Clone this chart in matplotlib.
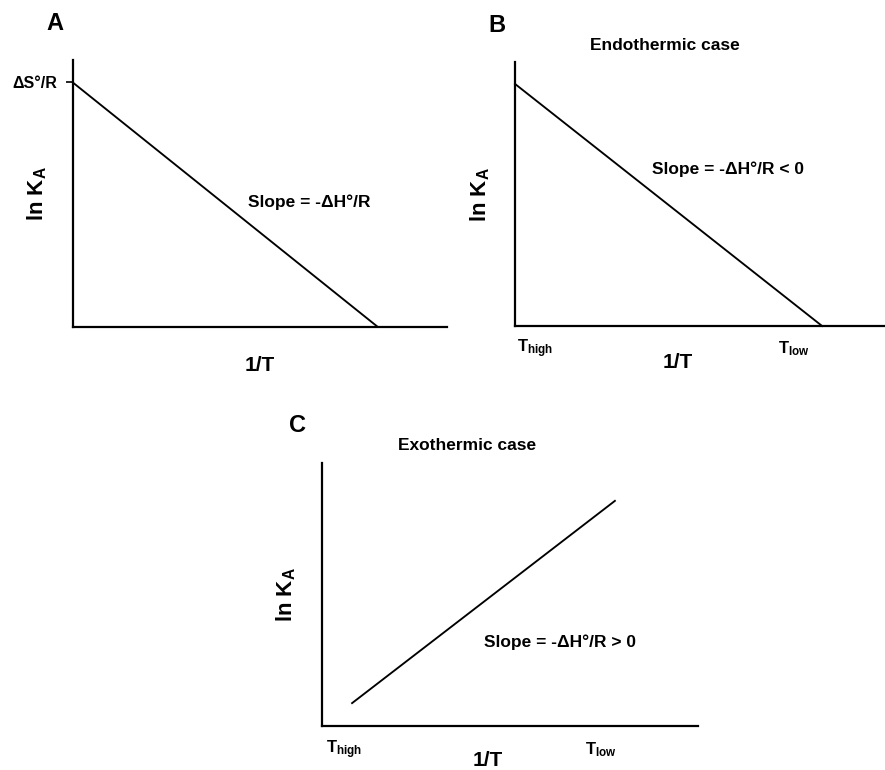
import matplotlib
matplotlib.use('Agg')
import matplotlib.pyplot as plt

plt.rcParams['font.family'] = ['Liberation Sans', 'DejaVu Sans']
plt.rcParams['font.weight'] = 'bold'
plt.rcParams['mathtext.fontset'] = 'custom'
plt.rcParams['mathtext.rm'] = 'Liberation Sans:bold'
plt.rcParams['mathtext.bf'] = 'Liberation Sans:bold'
plt.rcParams['mathtext.it'] = 'Liberation Sans:bold'
plt.rcParams['mathtext.default'] = 'rm'

W, H = 885, 770

# line end points (axes fraction units) for each panel
a_x = [0.0, 0.815]
a_y = [0.916, 0.0]
b_x = [0.0, 0.83]
b_y = [0.917, 0.0]
c_x = [0.08, 0.779]
c_y = [0.087, 0.856]

panels = ['A', 'B', 'C']
titles = ['', 'Endothermic case', 'Exothermic case']
slopes = ['Slope = -ΔH°/R', 'Slope = -ΔH°/R < 0', 'Slope = -ΔH°/R > 0']


def px_axes(fig, l, t, r, b):
    return fig.add_axes([l / W, 1 - b / H, (r - l) / W, (b - t) / H])


def style(ax):
    ax.set_xlim(0, 1)
    ax.set_ylim(0, 1)
    for s in ['top', 'right']:
        ax.spines[s].set_visible(False)
    for s in ['left', 'bottom']:
        ax.spines[s].set_linewidth(1.6)
    ax.set_xticks([])
    ax.set_yticks([])
    ax.text(-0.095, 0.5, r'ln K$_\mathrm{A}$', rotation=90, fontsize=16,
            ha='center', va='center', transform=ax.transAxes)


fig = plt.figure(figsize=(8.85, 7.70), dpi=100)

# ---- A
axA = px_axes(fig, 72.7, 60, 446.7, 326.7)
style(axA)
axA.plot(a_x, a_y, color='black', lw=1.35, clip_on=False)
axA.set_yticks([a_y[0]])
axA.set_yticklabels(['ΔS°/R'], fontsize=11.5, fontweight='bold')
axA.tick_params(axis='y', length=5, width=1.2, pad=6)
axA.text(0.5, -0.145, '1/T', fontsize=15, ha='center', va='center',
         transform=axA.transAxes)
axA.text(0.47, 0.465, slopes[0], fontsize=12.5, ha='left', va='center',
         transform=axA.transAxes)

# ---- B
axB = px_axes(fig, 515, 62, 885, 326)
style(axB)
axB.plot(b_x, b_y, color='black', lw=1.35, clip_on=False)
axB.text(0.44, -0.14, '1/T', fontsize=15, ha='center', va='center',
         transform=axB.transAxes)
axB.text(0.37, 0.595, slopes[1], fontsize=12.5, ha='left', va='center',
         transform=axB.transAxes)
axB.text(0.005, -0.085, r'T$_\mathrm{high}$', fontsize=12, ha='left', va='center',
         transform=axB.transAxes)
axB.text(0.71, -0.085, r'T$_\mathrm{low}$', fontsize=12, ha='left', va='center',
         transform=axB.transAxes)

# ---- C
axC = px_axes(fig, 322, 463, 698, 726)
style(axC)
axC.plot(c_x, c_y, color='black', lw=1.35, clip_on=False)
axC.text(0.44, -0.13, '1/T', fontsize=15, ha='center', va='center',
         transform=axC.transAxes)
axC.text(0.43, 0.32, slopes[2], fontsize=12.5, ha='left', va='center',
         transform=axC.transAxes)
axC.text(0.01, -0.09, r'T$_\mathrm{high}$', fontsize=12, ha='left', va='center',
         transform=axC.transAxes)
axC.text(0.7, -0.09, r'T$_\mathrm{low}$', fontsize=12, ha='left', va='center',
         transform=axC.transAxes)

# panel letters and titles
letter_pos = [(55, 23), (497, 25), (298, 425)]
title_pos = [(0, 0), (665, 46), (467, 446)]
for i, p in enumerate(panels):
    fig.text(letter_pos[i][0] / W, 1 - letter_pos[i][1] / H, p, fontsize=17,
             ha='center', va='center')
    if titles[i]:
        fig.text(title_pos[i][0] / W, 1 - title_pos[i][1] / H, titles[i],
                 fontsize=12.5, ha='center', va='center')

fig.savefig('out.png', dpi=100)
